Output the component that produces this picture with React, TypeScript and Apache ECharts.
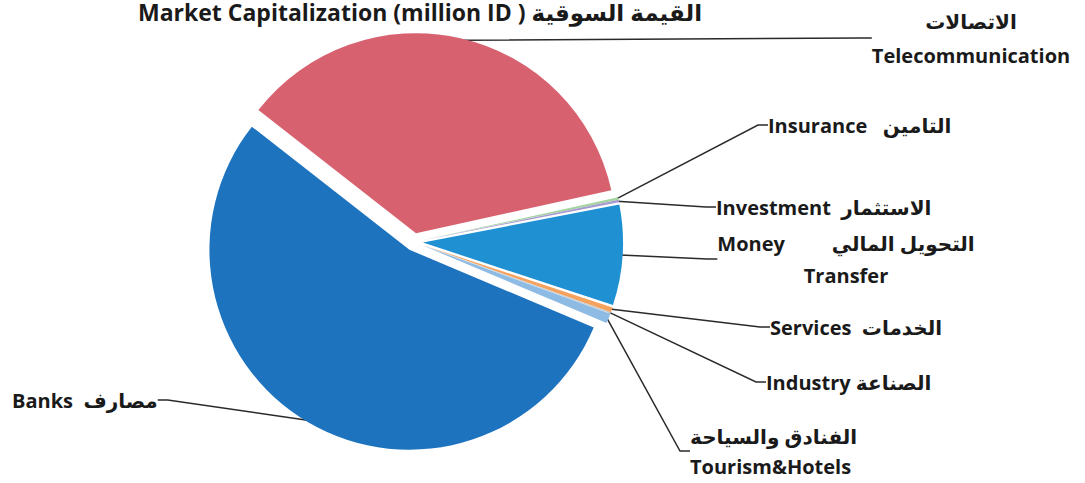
import React, { useEffect, useRef } from "react";
import * as echarts from "echarts";

const categories = [
  "الاتصالات\nTelecommunication",
  "Insurance   التامين",
  "Investment  الاستثمار",
  "Money         التحويل المالي\nTransfer",
  "Services  الخدمات",
  "Industry الصناعة",
  "الفنادق والسياحة\nTourism&Hotels",
  "Banks  مصارف",
];
const values = [36.0, 0.2, 0.2, 8.1, 0.4, 0.1, 0.8, 54.2];
const colors = ["#d8616f", "#a3d4a0", "#a89bd0", "#1f91d2", "#f5a25e", "#c9c9c9", "#8dbbe4", "#1e73be"];
const titleText = "Market Capitalization (million ID ) القيمة السوقية";

const labelPos = [
  { x: 971, y: 38, align: "center", lh: 34 },
  { x: 768, y: 125, align: "left", lh: 32 },
  { x: 716, y: 207, align: "left", lh: 32 },
  { x: 846, y: 259, align: "center", lh: 32 },
  { x: 770, y: 327, align: "left", lh: 32 },
  { x: 766, y: 382, align: "left", lh: 32 },
  { x: 690, y: 451, align: "left", lh: 30 },
  { x: 12, y: 400, align: "left", lh: 32 },
];

const FONT = "'Open Sans', 'DejaVu Sans', sans-serif";

export default function App() {
  const ref = useRef<HTMLDivElement>(null);
  useEffect(() => {
    if (!ref.current) return;
    const chart = echarts.init(ref.current, null, { renderer: "svg" });
    const data = categories.map((name, i) => ({ name, value: values[i] }));
    chart.setOption({
      animation: false,
      backgroundColor: "#ffffff",
      title: {
        text: titleText,
        left: 420,
        top: 0,
        padding: 0,
        textAlign: "center",
        textStyle: { fontFamily: FONT, fontSize: 23, fontWeight: "bold", color: "#1a1a1a" },
      },
      series: [
        {
          type: "pie",
          center: [414, 242],
          radius: ["0%", 200],
          startAngle: 142,
          clockwise: true,
          selectedMode: "multiple",
          selectedOffset: 9,
          silent: true,
          data: data.map((d, i) => ({ ...d, selected: true, itemStyle: { color: colors[i] } })),
          label: { show: false },
          labelLine: { show: false },
          emphasis: { disabled: true },
        },
        {
          type: "pie",
          center: [414, 242],
          radius: ["0%", 207],
          startAngle: 142,
          clockwise: true,
          silent: true,
          avoidLabelOverlap: false,
          data: data.map((d, i) => ({
            ...d,
            itemStyle: { color: "rgba(0,0,0,0)" },
            label: { lineHeight: labelPos[i].lh },
          })),
          label: {
            show: true,
            formatter: "{b}",
            fontFamily: FONT,
            fontSize: 20,
            fontWeight: "bold",
            color: "#1a1a1a",
            lineHeight: 32,
          },
          labelLine: {
            show: true,
            length: 10,
            length2: 10,
            lineStyle: { color: "#2a2a2a", width: 1.5 },
          },
          labelLayout: (params: any) => {
            const p = labelPos[params.dataIndex];
            return { x: p.x, y: p.y, align: p.align, verticalAlign: "middle", hideOverlap: false };
          },
          emphasis: { disabled: true },
        },
      ],
    });
    return () => chart.dispose();
  }, []);
  return (
    <div
      ref={ref}
      style={{ position: "fixed", left: 0, top: 0, width: 1085, height: 483 }}
    />
  );
}
